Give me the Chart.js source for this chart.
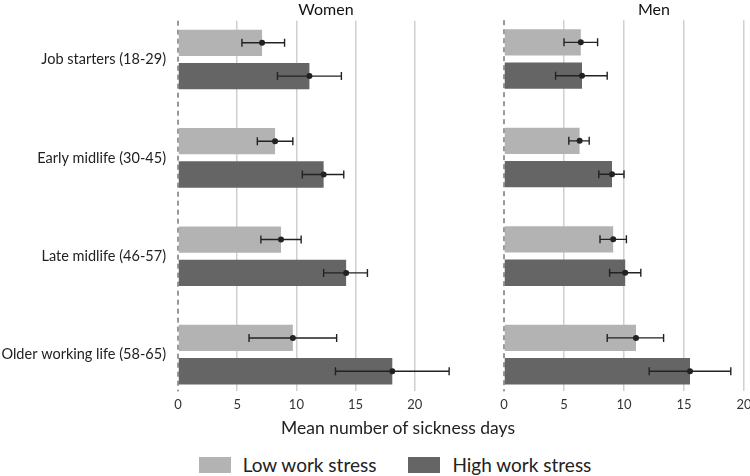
<!DOCTYPE html>
<html>
<head>
<meta charset="utf-8">
<script src="https://cdn.jsdelivr.net/npm/chart.js@4"></script>
<style>
  html, body { margin: 0; padding: 0; background: #fff; }
  body { width: 750px; height: 476px; position: relative; overflow: hidden; font-family: Lato, sans-serif; color: #222; }
  #women-wrap { position: absolute; left: 0; top: 0; width: 490px; height: 424px; }
  #men-wrap { position: absolute; left: 490px; top: 0; width: 330px; height: 424px; }
  #axis-title { position: absolute; left: 0; width: 796px; top: 417px; text-align: center; font-size: 17.5px; }
  #legend { position: absolute; left: 0; width: 790px; top: 453px; display: flex; justify-content: center; align-items: center; font-size: 19px; }
  .key { display: inline-block; width: 32px; height: 16px; margin-right: 12px; }
  .item { display: flex; align-items: center; margin: 0 16px; }
</style>
</head>
<body>
<div id="women-wrap"><canvas id="chart-women"></canvas></div>
<div id="men-wrap"><canvas id="chart-men"></canvas></div>
<div id="axis-title">Mean number of sickness days</div>
<div id="legend">
  <div class="item"><span class="key" style="background:#b3b3b3"></span>Low work stress</div>
  <div class="item"><span class="key" style="background:#656565"></span>High work stress</div>
</div>
<script>
  const ageGroups = ['Job starters (18-29)', 'Early midlife (30-45)', 'Late midlife (46-57)', 'Older working life (58-65)'];
  const xTicks = [0, 5, 10, 15, 20];

  // Women: means with lower / upper CI
  const womenLow = [7.1, 8.2, 8.7, 9.7];
  const womenLowCiLo = [5.4, 6.7, 7.0, 6.0];
  const womenLowCiHi = [9.0, 9.7, 10.4, 13.4];
  const womenHigh = [11.1, 12.3, 14.2, 18.1];
  const womenHighCiLo = [8.4, 10.5, 12.3, 13.3];
  const womenHighCiHi = [13.8, 14.0, 16.0, 22.9];

  // Men
  const menLow = [6.4, 6.3, 9.1, 11.0];
  const menLowCiLo = [5.0, 5.4, 8.0, 8.6];
  const menLowCiHi = [7.8, 7.1, 10.2, 13.3];
  const menHigh = [6.5, 9.0, 10.1, 15.5];
  const menHighCiLo = [4.3, 7.9, 8.8, 12.1];
  const menHighCiHi = [8.6, 10.0, 11.4, 18.9];

  const LOW_COLOR = '#b3b3b3';
  const HIGH_COLOR = '#656565';
  const Y_MIN = -0.394;
  const Y_MAX = 3.374;

  // error bars + dashed zero line, drawn through the chart scales
  const errorBars = {
    id: 'errorBars',
    beforeDatasetsDraw(chart) {
      const ctx = chart.ctx;
      const x0 = chart.scales.x.getPixelForValue(0);
      const area = chart.chartArea;
      ctx.save();
      ctx.strokeStyle = '#333';
      ctx.lineWidth = 1;
      ctx.setLineDash([5, 4]);
      ctx.beginPath();
      ctx.moveTo(x0, area.top);
      ctx.lineTo(x0, area.bottom);
      ctx.stroke();
      ctx.restore();
    },
    afterDatasetsDraw(chart) {
      const ctx = chart.ctx;
      const xs = chart.scales.x;
      ctx.save();
      ctx.strokeStyle = '#222';
      ctx.fillStyle = '#222';
      ctx.lineWidth = 1.4;
      chart.data.datasets.forEach((ds, di) => {
        const meta = chart.getDatasetMeta(di);
        meta.data.forEach((bar, i) => {
          const y = bar.y;
          const lo = xs.getPixelForValue(ds.ciLo[i]);
          const hi = xs.getPixelForValue(ds.ciHi[i]);
          ctx.beginPath();
          ctx.moveTo(lo, y); ctx.lineTo(hi, y);
          ctx.moveTo(lo, y - 4); ctx.lineTo(lo, y + 4);
          ctx.moveTo(hi, y - 4); ctx.lineTo(hi, y + 4);
          ctx.stroke();
          ctx.beginPath();
          ctx.arc(bar.x, y, 3, 0, Math.PI * 2);
          ctx.fill();
        });
      });
      ctx.restore();
    }
  };

  function toPoints(values) {
    return values.map((v, i) => ({ x: v, y: i }));
  }

  function makePanel(canvasId, title, low, lowLo, lowHi, high, highLo, highHi, showLabels) {
    return new Chart(document.getElementById(canvasId), {
      type: 'bar',
      data: {
        datasets: [
          { label: 'Low work stress', data: toPoints(low), ciLo: lowLo, ciHi: lowHi, backgroundColor: LOW_COLOR },
          { label: 'High work stress', data: toPoints(high), ciLo: highLo, ciHi: highHi, backgroundColor: HIGH_COLOR }
        ]
      },
      options: {
        indexAxis: 'y',
        responsive: true,
        maintainAspectRatio: false,
        animation: false,
        categoryPercentage: 0.677,
        barPercentage: 0.79,
        layout: { padding: { left: 0, right: 16, top: 0, bottom: 5 } },
        plugins: {
          legend: { display: false },
          tooltip: { enabled: false },
          title: {
            display: true,
            text: title,
            fullSize: false,
            color: '#111',
            font: { family: 'Lato', size: 16, weight: 'normal' },
            padding: { top: 0, bottom: 1 }
          }
        },
        scales: {
          x: {
            type: 'linear',
            min: 0,
            max: 25,
            afterBuildTicks: s => { s.ticks = xTicks.map(v => ({ value: v })); },
            grid: {
              color: c => (c.tick && c.tick.value === 0) ? 'rgba(0,0,0,0)' : '#d0d0d0',
              lineWidth: 1.5,
              drawTicks: false
            },
            border: { display: false },
            ticks: { color: '#333', font: { family: 'Lato', size: 13 }, padding: 6 }
          },
          y: {
            type: 'linear',
            reverse: true,
            bounds: 'data',
            offset: false,
            min: Y_MIN,
            max: Y_MAX,
            afterBuildTicks: s => {
              s.ticks = ageGroups.map((_, i) => ({ value: i }));
              s.min = Y_MIN;
              s.max = Y_MAX;
            },
            afterFit: s => { s.width = showLabels ? 178 : 14; },
            grid: { display: false, drawTicks: false, offset: false },
            border: { display: false },
            ticks: {
              display: showLabels,
              color: '#222',
              padding: 12,
              font: { family: 'Lato', size: 14.5 },
              callback: v => ageGroups[v]
            }
          }
        }
      },
      plugins: [errorBars]
    });
  }

  makePanel('chart-women', 'Women', womenLow, womenLowCiLo, womenLowCiHi, womenHigh, womenHighCiLo, womenHighCiHi, true);
  makePanel('chart-men', 'Men', menLow, menLowCiLo, menLowCiHi, menHigh, menHighCiLo, menHighCiHi, false);
</script>
</body>
</html>
